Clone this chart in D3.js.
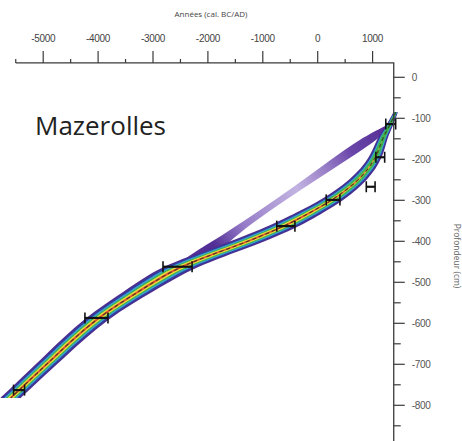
<!DOCTYPE html>
<html><head><meta charset="utf-8">
<script src="https://cdn.jsdelivr.net/npm/d3@7"></script>
<style>body{margin:0;background:#fff}svg{display:block}</style>
</head><body>
<script>
// ---- data ----
const siteName = "Mazerolles";
const xTitle = "Années (cal. BC/AD)";
const yTitle = "Profondeur (cm)";
const xTickValues = [-5500,-5000,-4500,-4000,-3500,-3000,-2500,-2000,-1500,-1000,-500,0,500,1000];
const yTickValues = [0,-50,-100,-150,-200,-250,-300,-350,-400,-450,-500,-550,-600,-650,-700,-750,-800,-850];
const yearAxisMin = -5500, yearAxisMax = 1385;
const depthAxisTop = 35, depthAxisBottom = -890;

// age-depth model (median) and envelope spreads (years)
const modelDepth  = [-85, -116, -150, -195, -250, -299, -330, -363, -413, -462, -520, -587, -680, -763, -782];
const modelYear   = [1420, 1320, 1170, 1080, 770, 280, -140, -590, -1500, -2560, -3220, -4040, -4780, -5440, -5590];
const spreadOld   = [40, 60, 100, 120, 165, 215, 250, 290, 330, 330, 270, 225, 200, 190, 190];
const spreadYoung = [40, 60, 90, 110, 155, 205, 240, 280, 320, 320, 260, 215, 190, 180, 180];
const coreDensity = [0, 0, 0, 0.2, 0.5, 0.8, 1, 1, 1, 1, 1, 1, 1, 1, 1];

// alternative (minor) model branch
const altDepth  = [-116, -150, -200, -250, -300, -350, -400, -425, -445];
const altYear   = [1317, 940, 400, -140, -690, -1235, -1760, -2000, -2200];
const altSpread = [50, 170, 150, 115, 95, 100, 150, 230, 240];

// radiocarbon dates (calibrated) with errors
const dateDepth = [-114, -195, -267, -299, -363, -462, -587, -763];
const dateYear  = [1330, 1140, 965, 280, -580, -2553, -4030, -5440];
const dateErr   = [90, 80, 80, 125, 165, 265, 210, 100];

// ---- chart ----
const W = 462, H = 441;
const svg = d3.select("body").append("svg").attr("width", W).attr("height", H);
const x = d3.scaleLinear().domain([-5000, 1000]).range([43.2, 372.6]);
const y = d3.scaleLinear().domain([0, -800]).range([77.3, 405.3]);

const model = modelDepth.map((d,i)=>({d, yr:modelYear[i], so:spreadOld[i], sy:spreadYoung[i], c:coreDensity[i]}));
const alt = altDepth.map((d,i)=>({d, yr:altYear[i], s:altSpread[i]}));

const defs = svg.append("defs");
defs.append("filter").attr("id","soft").append("feGaussianBlur").attr("stdDeviation",0.7);
defs.append("filter").attr("id","soft2").append("feGaussianBlur").attr("stdDeviation",0.5);
const g1 = defs.append("linearGradient").attr("id","altGrad").attr("gradientUnits","userSpaceOnUse")
  .attr("x1", x(altYear[0])).attr("y1", y(altDepth[0]))
  .attr("x2", x(altYear[altYear.length-1])).attr("y2", y(altDepth[altDepth.length-1]));
[[0,"#4a1f8c",0.95],[0.2,"#5a32a0",0.9],[0.48,"#a892d4",0.7],[0.75,"#7c5cbc",0.8],[0.9,"#4a2590",0.95],[1,"#4a2590",0.95]]
  .forEach(s=>g1.append("stop").attr("offset",s[0]).attr("stop-color",s[1]).attr("stop-opacity",s[2]));

const curve = d3.curveBasis;

// alt branch
svg.append("path").datum(alt).attr("filter","url(#soft2)")
  .attr("d", d3.area().curve(curve).y(p=>y(p.d)).x0(p=>x(p.yr-p.s)).x1(p=>x(p.yr+p.s)))
  .attr("fill","url(#altGrad)");

const band = svg.append("g").attr("filter","url(#soft)");
const levels = [
  {f:1.00, core:false, color:"#4f2d90"},
  {f:0.82, core:false, color:"#2f3f9f"},
  {f:0.64, core:false, color:"#3aa2d4"},
  {f:0.46, core:false, color:"#3fb450"},
  {f:0.30, core:true,  color:"#e8e03c"},
  {f:0.13, core:true,  color:"#e2542c"}
];
levels.forEach(L=>{
  const k = p => L.f * (L.core ? p.c : 1);
  band.append("path").datum(model)
    .attr("d", d3.area().curve(curve).y(p=>y(p.d)).x0(p=>x(p.yr - k(p)*p.so)).x1(p=>x(p.yr + k(p)*p.sy)))
    .attr("fill", L.color);
});

// median dashed
svg.append("path").datum(model)
  .attr("d", d3.line().curve(curve).x(p=>x(p.yr)).y(p=>y(p.d)))
  .attr("fill","none").attr("stroke","#2b2a1c").attr("stroke-opacity",0.75)
  .attr("stroke-width",1.2).attr("stroke-dasharray","4,3");

// error bars
const eb = svg.append("g").attr("stroke","#111");
dateDepth.forEach((d,i)=>{
  const yy = y(d), xa = x(dateYear[i]-dateErr[i]), xb = x(dateYear[i]+dateErr[i]);
  eb.append("line").attr("x1",xa).attr("x2",xb).attr("y1",yy).attr("y2",yy).attr("stroke-width",2.2);
  [xa,xb].forEach(xx=>eb.append("line").attr("x1",xx).attr("x2",xx).attr("y1",yy-5.5).attr("y2",yy+5.5).attr("stroke-width",1.6));
});

// axes
const axisColor = "#3a3a3a";
const yTop = y(depthAxisTop), xRight = x(yearAxisMax);
svg.append("path")
  .attr("d", `M${x(yearAxisMin)},${yTop}H${xRight}V${H}`)
  .attr("fill","none").attr("stroke",axisColor).attr("stroke-width",1.3);

const xa = svg.append("g");
xTickValues.forEach(v=>{
  const major = v % 1000 === 0;
  xa.append("line").attr("x1",x(v)).attr("x2",x(v)).attr("y1",yTop).attr("y2",yTop-(major?12:4))
    .attr("stroke",axisColor).attr("stroke-width",1.2);
  if (major) xa.append("text").attr("x",x(v)).attr("y",42).attr("text-anchor","middle")
    .attr("font-family","Liberation Sans, Arial, sans-serif").attr("font-size",10).attr("fill","#444")
    .attr("letter-spacing","-0.3").text(v);
});
svg.append("text").attr("x",211).attr("y",16.5).attr("text-anchor","middle")
  .attr("font-family","Open Sans, sans-serif").attr("font-size",8).attr("fill","#444").text(xTitle);

const ya = svg.append("g");
yTickValues.forEach(v=>{
  const major = v % 100 === 0;
  ya.append("line").attr("x1",xRight).attr("x2",xRight+(major?11:7)).attr("y1",y(v)).attr("y2",y(v))
    .attr("stroke",axisColor).attr("stroke-width",1.2);
  if (major) ya.append("text").attr("x",xRight+18).attr("y",y(v)).attr("dy","0.35em")
    .attr("font-family","Liberation Sans, Arial, sans-serif").attr("font-size",10).attr("fill","#555")
    .attr("letter-spacing","-0.3").text(v);
});
svg.append("text").attr("transform",`translate(454,256) rotate(90)`).attr("text-anchor","middle")
  .attr("font-family","Open Sans, sans-serif").attr("font-size",8.5).attr("fill","#666").text(yTitle);

svg.append("text").attr("x",35).attr("y",135).attr("font-family","Open Sans, sans-serif")
  .attr("font-size",26).attr("fill","#222").text(siteName);
</script>
</body></html>
